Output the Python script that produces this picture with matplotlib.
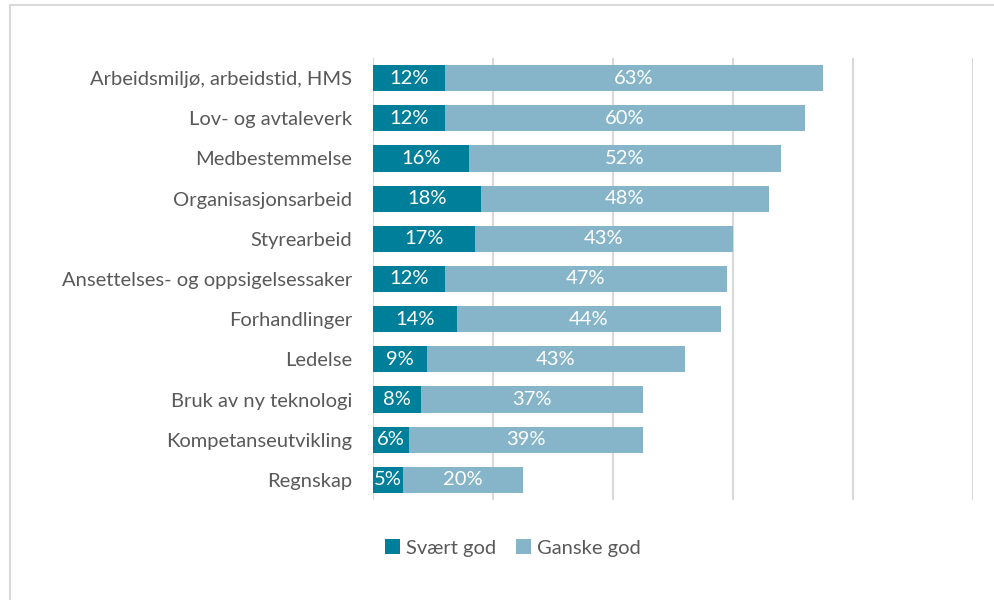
import matplotlib.pyplot as plt
from matplotlib.lines import Line2D
import numpy as np

plt.rcParams['font.family'] = ['Lato', 'DejaVu Sans']

categories = ['Arbeidsmiljø, arbeidstid, HMS', 'Lov- og avtaleverk', 'Medbestemmelse',
              'Organisasjonsarbeid', 'Styrearbeid', 'Ansettelses- og oppsigelsessaker',
              'Forhandlinger', 'Ledelse', 'Bruk av ny teknologi', 'Kompetanseutvikling',
              'Regnskap']
svaert_god = [12, 12, 16, 18, 17, 12, 14, 9, 8, 6, 5]
ganske_god = [63, 60, 52, 48, 43, 47, 44, 43, 37, 39, 20]

DARK = '#007f9a'
LIGHT = '#86b5c9'
TEXT = '#595959'
GRID = '#d9d9d9'
FS = 14.5

fig = plt.figure(figsize=(9.94, 6.0), dpi=100)
ax = fig.add_axes([373 / 994, 1 - 500 / 600, 600 / 994, 442 / 600])

y = np.arange(len(categories))
h = 0.65
ax.barh(y, svaert_god, h, color=DARK, label='Svært god', zorder=3)
ax.barh(y, ganske_god, h, left=svaert_god, color=LIGHT, label='Ganske god', zorder=3)

for i in range(len(categories)):
    ax.text(svaert_god[i] / 2, y[i], f'{svaert_god[i]}%', ha='center', va='center',
            color='white', fontsize=FS, zorder=4)
    ax.text(svaert_god[i] + ganske_god[i] / 2, y[i], f'{ganske_god[i]}%', ha='center',
            va='center', color='white', fontsize=FS, zorder=4)

ax.set_xlim(0, 100)
ax.set_ylim(len(categories) - 0.5, -0.5)
ax.set_xticks(range(0, 101, 20))
ax.set_xticklabels([])
ax.set_yticks(y)
ax.set_yticklabels(categories, color=TEXT, fontsize=FS)
ax.tick_params(axis='both', length=0, pad=15)
ax.grid(axis='x', color=GRID, linewidth=1.5, zorder=0)
for s in ax.spines.values():
    s.set_visible(False)

ax.legend(loc='center', bbox_to_anchor=(513 / 994, 1 - 548 / 600),
          bbox_transform=fig.transFigure, ncol=2, frameon=False, fontsize=FS,
          labelcolor=TEXT, handlelength=0.75, handleheight=0.75, handletextpad=0.3,
          columnspacing=1.0)

# frame lines (left and top) of the original image
fig.add_artist(Line2D([9.5 / 994, 9.5 / 994], [0, 1 - 5 / 600], color=GRID, linewidth=1.5,
                      transform=fig.transFigure))
fig.add_artist(Line2D([9.5 / 994, 1], [1 - 5 / 600, 1 - 5 / 600], color=GRID, linewidth=1.5,
                      transform=fig.transFigure))

fig.savefig('out.png', dpi=100)
